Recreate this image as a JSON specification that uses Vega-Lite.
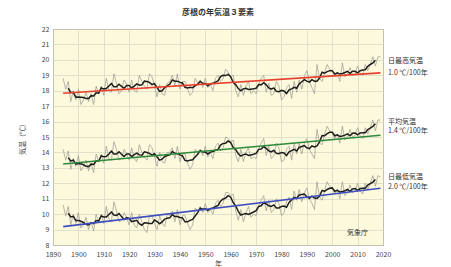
{
  "$schema": "https://vega.github.io/schema/vega-lite/v6.json",
  "autosize": {"type": "none"},
  "width": 330,
  "height": 216,
  "padding": {"left": 53, "top": 29, "right": 68, "bottom": 22},
  "background": "#ffffff",
  "title": {"text": "彦根の年気温３要素", "fontSize": 8, "font": "Noto Sans CJK JP", "fontWeight": "bold", "color": "#333333", "offset": 8, "anchor": "middle"},
  "config": {
    "view": {"stroke": "#6e6e5e", "strokeWidth": 1, "fill": "#fcf9dc"},
    "axis": {"gridColor": "#d9d9c6", "gridWidth": 0.8, "labelFont": "Noto Sans CJK JP", "titleFont": "Noto Sans CJK JP", "labelColor": "#444444", "titleColor": "#444444", "labelFontSize": 7, "titleFontSize": 7, "titleFontWeight": "normal", "ticks": false, "domain": false}
  },
  "datasets": {
    "d": [
      {"year":1894,"max":18.8,"mean":14.2,"min":10.6},{"year":1895,"max":18.1,"mean":13.5,"min":9.9},{"year":1896,"max":18.6,"mean":14.1,"min":10.5},{"year":1897,"max":17.3,"mean":12.9,"min":9.3},{"year":1898,"max":18.0,"mean":13.6,"min":10.0},{"year":1899,"max":17.4,"mean":13.1,"min":9.4},
      {"year":1900,"max":18.1,"mean":13.8,"min":10.1},{"year":1901,"max":17.1,"mean":12.8,"min":9.1},{"year":1902,"max":17.4,"mean":13.1,"min":9.3},{"year":1903,"max":17.9,"mean":13.5,"min":9.8},{"year":1904,"max":17.3,"mean":12.8,"min":9.0},{"year":1905,"max":17.8,"mean":13.3,"min":9.5},{"year":1906,"max":17.1,"mean":12.7,"min":8.9},{"year":1907,"max":18.3,"mean":13.9,"min":10.0},{"year":1908,"max":17.8,"mean":13.4,"min":9.5},{"year":1909,"max":18.3,"mean":13.9,"min":10.0},
      {"year":1910,"max":17.7,"mean":13.3,"min":9.4},{"year":1911,"max":18.8,"mean":14.4,"min":10.5},{"year":1912,"max":18.0,"mean":13.6,"min":9.7},{"year":1913,"max":17.9,"mean":13.5,"min":9.5},{"year":1914,"max":19.1,"mean":14.7,"min":10.8},{"year":1915,"max":18.5,"mean":14.2,"min":10.2},{"year":1916,"max":17.8,"mean":13.5,"min":9.5},{"year":1917,"max":18.0,"mean":13.6,"min":9.6},{"year":1918,"max":18.7,"mean":14.2,"min":10.1},{"year":1919,"max":18.4,"mean":13.9,"min":9.8},
      {"year":1920,"max":17.9,"mean":13.5,"min":9.3},{"year":1921,"max":18.7,"mean":14.3,"min":10.1},{"year":1922,"max":18.0,"mean":13.6,"min":9.3},{"year":1923,"max":17.9,"mean":13.4,"min":9.1},{"year":1924,"max":19.0,"mean":14.5,"min":10.0},{"year":1925,"max":18.6,"mean":14.0,"min":9.5},{"year":1926,"max":18.3,"mean":13.7,"min":9.0},{"year":1927,"max":18.1,"mean":13.5,"min":8.8},{"year":1928,"max":19.1,"mean":14.5,"min":9.9},{"year":1929,"max":18.9,"mean":14.3,"min":9.9},
      {"year":1930,"max":18.3,"mean":13.7,"min":9.4},{"year":1931,"max":17.6,"mean":13.1,"min":9.0},{"year":1932,"max":18.4,"mean":14.0,"min":9.9},{"year":1933,"max":17.8,"mean":13.4,"min":9.4},{"year":1934,"max":17.7,"mean":13.3,"min":9.2},{"year":1935,"max":18.5,"mean":14.0,"min":10.0},{"year":1936,"max":18.6,"mean":14.0,"min":9.9},{"year":1937,"max":19.0,"mean":14.3,"min":10.2},{"year":1938,"max":18.3,"mean":13.6,"min":9.5},{"year":1939,"max":19.1,"mean":14.4,"min":10.3},
      {"year":1940,"max":18.1,"mean":13.4,"min":9.3},{"year":1941,"max":18.6,"mean":13.9,"min":9.9},{"year":1942,"max":18.6,"mean":13.9,"min":9.9},{"year":1943,"max":18.1,"mean":13.3,"min":9.4},{"year":1944,"max":17.7,"mean":12.9,"min":9.0},{"year":1945,"max":17.9,"mean":13.2,"min":9.3},{"year":1946,"max":18.8,"mean":14.2,"min":10.4},{"year":1947,"max":18.5,"mean":14.0,"min":10.2},{"year":1948,"max":18.7,"mean":14.2,"min":10.5},{"year":1949,"max":18.2,"mean":13.8,"min":10.1},
      {"year":1950,"max":18.8,"mean":14.4,"min":10.7},{"year":1951,"max":18.2,"mean":13.7,"min":10.1},{"year":1952,"max":18.4,"mean":14.0,"min":10.3},{"year":1953,"max":18.0,"mean":13.6,"min":10.0},{"year":1954,"max":18.8,"mean":14.4,"min":10.7},{"year":1955,"max":19.0,"mean":14.6,"min":10.9},{"year":1956,"max":18.6,"mean":14.1,"min":10.5},{"year":1957,"max":18.8,"mean":14.3,"min":10.7},{"year":1958,"max":19.4,"mean":15.0,"min":11.4},{"year":1959,"max":19.2,"mean":14.9,"min":11.4},
      {"year":1960,"max":18.9,"mean":14.7,"min":11.2},{"year":1961,"max":19.0,"mean":14.8,"min":11.3},{"year":1962,"max":18.0,"mean":13.8,"min":10.2},{"year":1963,"max":17.6,"mean":13.4,"min":9.6},{"year":1964,"max":18.4,"mean":14.2,"min":10.3},{"year":1965,"max":17.7,"mean":13.4,"min":9.5},{"year":1966,"max":18.3,"mean":14.0,"min":10.1},{"year":1967,"max":18.6,"mean":14.3,"min":10.5},{"year":1968,"max":17.8,"mean":13.6,"min":9.8},{"year":1969,"max":18.0,"mean":13.7,"min":10.0},
      {"year":1970,"max":17.8,"mean":13.6,"min":9.9},{"year":1971,"max":18.4,"mean":14.2,"min":10.5},{"year":1972,"max":18.8,"mean":14.6,"min":10.9},{"year":1973,"max":19.0,"mean":14.9,"min":11.2},{"year":1974,"max":17.9,"mean":13.8,"min":10.2},{"year":1975,"max":18.5,"mean":14.4,"min":10.9},{"year":1976,"max":17.7,"mean":13.6,"min":10.1},{"year":1977,"max":17.8,"mean":13.8,"min":10.3},{"year":1978,"max":18.6,"mean":14.6,"min":11.0},{"year":1979,"max":18.3,"mean":14.3,"min":10.7},
      {"year":1980,"max":17.4,"mean":13.4,"min":9.9},{"year":1981,"max":17.6,"mean":13.5,"min":10.1},{"year":1982,"max":18.2,"mean":14.2,"min":10.8},{"year":1983,"max":18.4,"mean":14.4,"min":11.1},{"year":1984,"max":17.5,"mean":13.5,"min":10.3},{"year":1985,"max":18.6,"mean":14.6,"min":11.5},{"year":1986,"max":17.9,"mean":13.9,"min":10.9},{"year":1987,"max":18.7,"mean":14.6,"min":11.6},{"year":1988,"max":18.1,"mean":13.9,"min":10.8},{"year":1989,"max":18.9,"mean":14.6,"min":11.4},
      {"year":1990,"max":19.3,"mean":14.9,"min":11.7},{"year":1991,"max":18.6,"mean":14.2,"min":11.0},{"year":1992,"max":18.2,"mean":13.9,"min":10.7},{"year":1993,"max":17.8,"mean":13.6,"min":10.3},{"year":1994,"max":19.7,"mean":15.5,"min":12.1},{"year":1995,"max":18.8,"mean":14.6,"min":11.1},{"year":1996,"max":18.6,"mean":14.5,"min":10.9},{"year":1997,"max":19.2,"mean":15.2,"min":11.5},{"year":1998,"max":19.7,"mean":15.7,"min":12.1},{"year":1999,"max":19.4,"mean":15.4,"min":11.8},
      {"year":2000,"max":19.3,"mean":15.3,"min":11.7},{"year":2001,"max":18.9,"mean":14.9,"min":11.3},{"year":2002,"max":19.2,"mean":15.2,"min":11.6},{"year":2003,"max":18.6,"mean":14.6,"min":11.0},{"year":2004,"max":19.8,"mean":15.7,"min":12.1},{"year":2005,"max":18.9,"mean":14.8,"min":11.2},{"year":2006,"max":19.1,"mean":15.0,"min":11.4},{"year":2007,"max":19.5,"mean":15.5,"min":11.9},{"year":2008,"max":19.0,"mean":15.0,"min":11.4},{"year":2009,"max":19.1,"mean":15.1,"min":11.5},
      {"year":2010,"max":19.6,"mean":15.6,"min":12.0},{"year":2011,"max":19.1,"mean":15.1,"min":11.5},{"year":2012,"max":19.0,"mean":14.9,"min":11.3},{"year":2013,"max":19.7,"mean":15.6,"min":12.0},{"year":2014,"max":19.3,"mean":15.2,"min":11.6},{"year":2015,"max":19.7,"mean":15.6,"min":12.0},{"year":2016,"max":20.2,"mean":16.1,"min":12.5},{"year":2017,"max":19.6,"mean":15.4,"min":11.8},{"year":2018,"max":20.2,"mean":16.1,"min":12.5},{"year":2019,"max":20.2,"mean":16.1,"min":12.4}
    ],
    "labels": [
      {"year":2022,"value":19.93,"t":"日最高気温"},
      {"year":2022,"value":19.15,"t":"1.0 ℃/100年"},
      {"year":2022,"value":15.97,"t":"平均気温"},
      {"year":2022,"value":15.39,"t":"1.4 ℃/100年"},
      {"year":2022,"value":12.41,"t":"日最低気温"},
      {"year":2022,"value":11.76,"t":"2.0 ℃/100年"}
    ],
    "credit": [{"year":2010,"value":8.8,"t":"気象庁"}]
  },
  "encoding": {
    "x": {"field": "year", "type": "quantitative", "scale": {"domain": [1890, 2020], "nice": false, "zero": false},
      "axis": {"values": [1890,1900,1910,1920,1930,1940,1950,1960,1970,1980,1990,2000,2010,2020], "format": "d", "title": "年", "labelPadding": 5, "titlePadding": 2, "labelFlush": false}},
    "y": {"field": "value", "type": "quantitative", "scale": {"domain": [8, 22], "nice": false, "zero": false},
      "axis": {"values": [8,9,10,11,12,13,14,15,16,17,18,19,20,21,22], "title": "気温（℃）", "labelPadding": 4, "titlePadding": 16}}
  },
  "layer": [
    {
      "data": {"name": "d"},
      "transform": [{"fold": ["max", "mean", "min"], "as": ["series", "value"]}],
      "mark": {"type": "line", "color": "#9a9a90", "strokeWidth": 0.7},
      "encoding": {"detail": {"field": "series"}}
    },
    {
      "data": {"name": "d"},
      "transform": [
        {"fold": ["max", "mean", "min"], "as": ["series", "v"]},
        {"window": [{"op": "mean", "field": "v", "as": "value"}], "frame": [-2, 2], "groupby": ["series"], "sort": [{"field": "year"}]},
        {"filter": "datum.year >= 1896 && datum.year <= 2017"}
      ],
      "mark": {"type": "line", "color": "#1e1e1e", "strokeWidth": 1.5},
      "encoding": {"detail": {"field": "series"}}
    },
    {
      "data": {"name": "d"},
      "transform": [
        {"fold": ["max", "mean", "min"], "as": ["series", "value"]},
        {"regression": "value", "on": "year", "groupby": ["series"], "extent": [1894, 2019]}
      ],
      "mark": {"type": "line", "strokeWidth": 1.6},
      "encoding": {"color": {"field": "series", "type": "nominal", "scale": {"domain": ["max", "mean", "min"], "range": ["#e8402e", "#2f8a3c", "#3f4fbf"]}, "legend": null}}
    },
    {
      "data": {"name": "labels"},
      "mark": {"type": "text", "align": "left", "baseline": "middle", "fontSize": 7, "font": "Noto Sans CJK JP", "color": "#333333"},
      "encoding": {"text": {"field": "t"}}
    },
    {
      "data": {"name": "credit"},
      "mark": {"type": "text", "align": "center", "baseline": "middle", "fontSize": 7, "font": "Noto Sans CJK JP", "color": "#333333"},
      "encoding": {"text": {"field": "t"}}
    }
  ]
}
